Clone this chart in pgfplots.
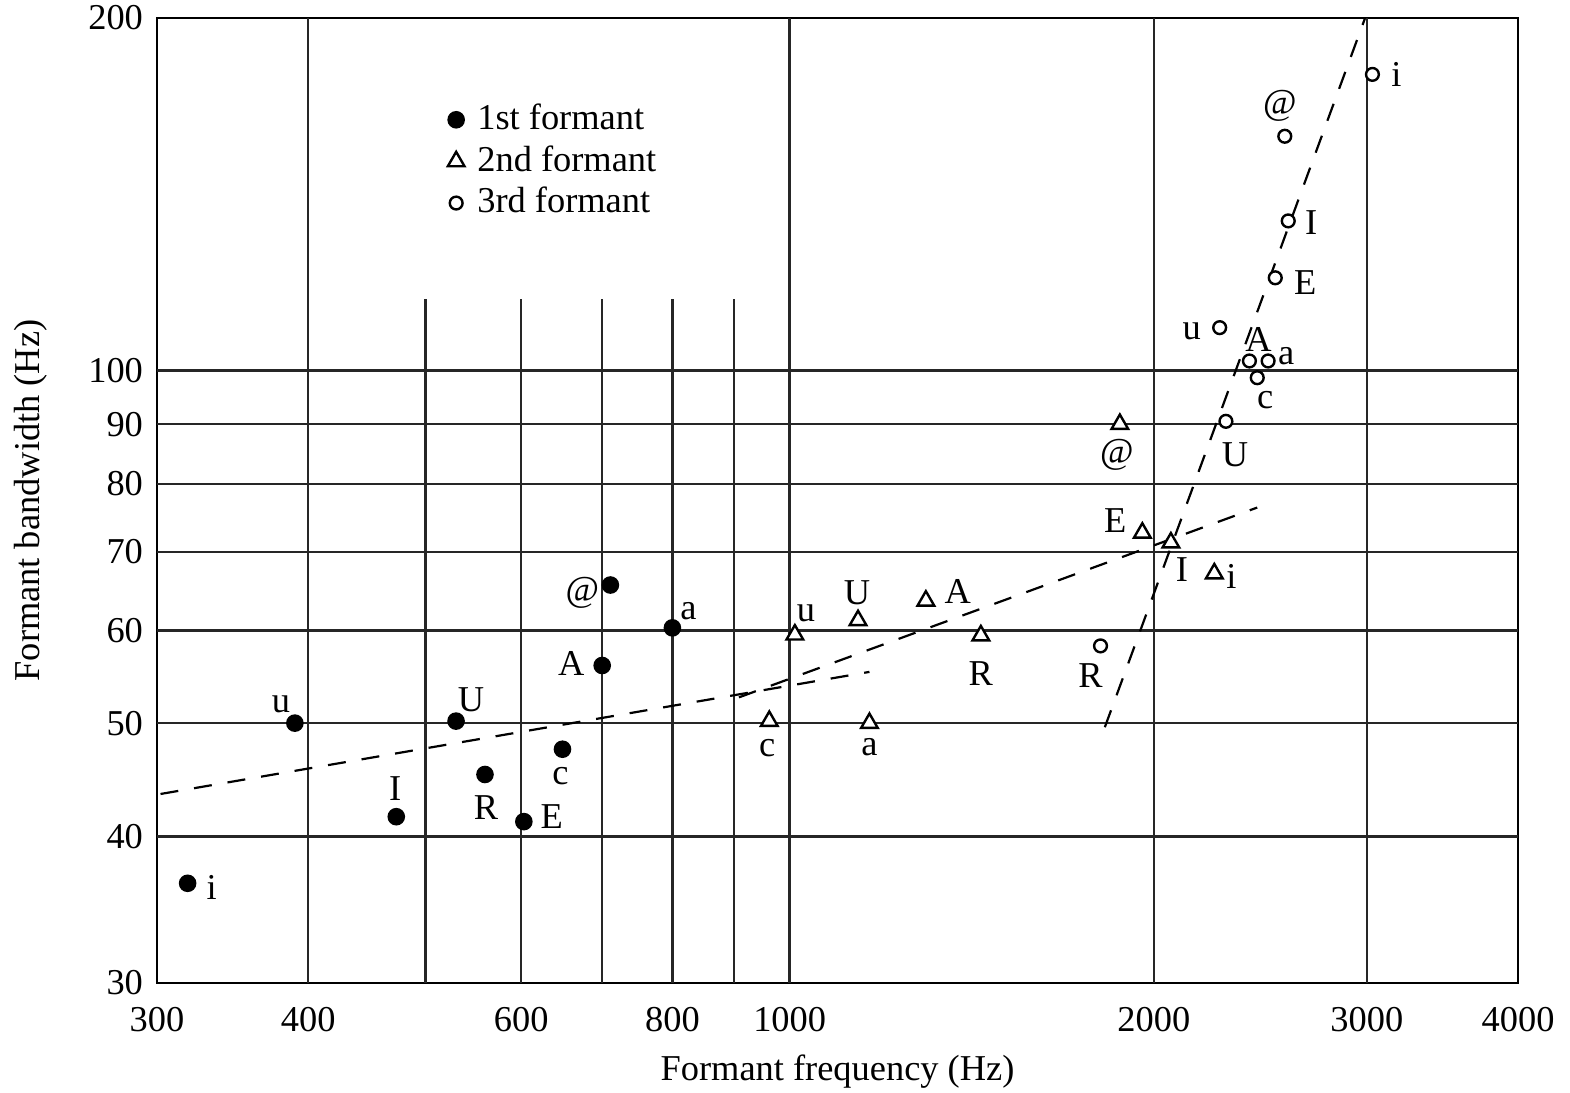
\documentclass[border=0pt]{standalone}
\usepackage{fontspec}
\setmainfont{Liberation Serif}
\usepackage{pgfplots}
\pgfplotsset{compat=1.18}

\newcommand{\fs}{\fontsize{9.1}{11}\selectfont}
% label: x, y (data), xshift, yshift (pt), text
\newcommand{\lab}[5]{\node[font=\fs,inner sep=0pt,xshift=#3pt,yshift=#4pt] at (axis cs:#1,#2) {#5};}

\begin{document}
\begin{tikzpicture}
\begin{axis}[
  xmode=log, ymode=log,
  scale only axis, width=340.25pt, height=241.25pt,
  xmin=300, xmax=4000, ymin=30, ymax=200,
  xtick={300,400,600,800,1000,2000,3000,4000},
  xticklabels={300,400,600,800,1000,2000,3000,4000},
  ytick={30,40,50,60,70,80,90,100,200},
  yticklabels={30,40,50,60,70,80,90,100,200},
  xminorticks=false, yminorticks=false,
  major tick length=0pt,
  tick label style={font=\fs},
  xticklabel style={yshift=-2.5pt},
  xlabel={Formant frequency (Hz)}, ylabel={Formant bandwidth (Hz)},
  label style={font=\fs},
  xlabel style={at={(axis description cs:0.5,-0.092)},anchor=center},
  ylabel style={at={(axis description cs:-0.093,0.5)},anchor=center},
  axis line style={line width=0.7pt},
  clip=false,
  legend cell align=left,
  legend style={at={(0.2095,0.92)}, anchor=north west, draw=none, fill=none,
    font=\fs, row sep=-1.5pt, inner sep=0pt},
  legend image code/.code={
    \draw[mark repeat=2,mark phase=2,#1] plot coordinates {(0cm,0cm) (0.1cm,0cm) (0.2cm,0cm)};
    \path[draw=none,fill=none] (0.1cm,0cm) ++(-3.3pt,0pt) rectangle ++(6.6pt,0.1pt);},
]
% grid lines
\pgfplotsinvokeforeach{400,1000,2000,3000}{\draw[black!85,line width=0.6pt] (axis cs:#1,30) -- (axis cs:#1,200);}
\pgfplotsinvokeforeach{500,600,700,800,900}{\draw[black!85,line width=0.6pt] (axis cs:#1,30) -- (axis cs:#1,115);}
\pgfplotsinvokeforeach{40,50,60,70,80,90,100}{\draw[black!85,line width=0.6pt] (axis cs:300,#1) -- (axis cs:4000,#1);}

% dashed trend lines
\addplot[black, line width=0.55pt, dash pattern=on 4.5pt off 4pt, forget plot]
  coordinates {(302,43.5) (1164,55.3)};
\addplot[black, line width=0.55pt, dash pattern=on 4.5pt off 4pt, forget plot]
  coordinates {(908,52.6) (2435,76.4)};
\addplot[black, line width=0.55pt, dash pattern=on 4.5pt off 4pt, forget plot]
  coordinates {(1822,49.6) (2990,200)};

% 1st formant
\addplot[only marks, mark=*, mark size=2pt, black] coordinates {
  (318,36.5) (390,50) (473,41.6) (530,50.2) (560,45.2) (603,41.2)
  (649,47.5) (700,56) (711,65.6) (800,60.3)};
\addlegendentry{1st formant}
% 2nd formant
\addplot[only marks, mark=triangle*, mark size=2.4pt, mark options={draw=black,fill=white,line width=0.6pt}] coordinates {
  (1875,90) (1957,72.7) (2066,71.3) (2244,67.1) (1010,59.5) (1139,61.2)
  (1296,63.6) (1439,59.4) (962,50.2) (1164,50)};
\addlegendentry{2nd formant}
% 3rd formant
\addplot[only marks, mark=*, mark size=1.6pt, mark options={draw=black,fill=white,line width=0.6pt}] coordinates {
  (3032,179) (2566,158.5) (2583,134.2) (2520,120) (2267,108.8) (2399,101.9)
  (2486,101.9) (2435,98.6) (2294,90.5) (1807,58.2)};
\addlegendentry{3rd formant}

% labels, 1st formant
\lab{318}{36.5}{6}{-1}{i}
\lab{390}{50}{-3.5}{4.75}{u}
\lab{473}{41.6}{-0.25}{7}{I}
\lab{530}{50.2}{3.75}{5.25}{U}
\lab{560}{45.2}{0.25}{-8.25}{R}
\lab{603}{41.2}{7}{1.25}{E}
\lab{649}{47.5}{-0.5}{-6.75}{c}
\lab{700}{56}{-7.75}{0.5}{A}
\lab{711}{65.6}{-7}{-2}{@}
\lab{800}{60.3}{4}{4.25}{a}
% labels, 2nd formant
\lab{1875}{90}{-0.75}{-7.75}{@}
\lab{1957}{72.7}{-6.75}{3}{E}
\lab{2066}{71.3}{2.75}{-6.75}{I}
\lab{2244}{67.1}{4.25}{-0.75}{i}
\lab{1010}{59.5}{2.75}{5.25}{u}
\lab{1139}{61.2}{-0.25}{7}{U}
\lab{1296}{63.6}{8}{2.25}{A}
\lab{1439}{59.4}{0}{-9.5}{R}
\lab{962}{50.2}{-0.5}{-6.75}{c}
\lab{1164}{50}{0}{-6}{a}
% labels, 3rd formant
\lab{3032}{179}{6}{0}{i}
\lab{2566}{158.5}{-1.25}{7.5}{@}
\lab{2583}{134.2}{5.75}{-0.5}{I}
\lab{2520}{120}{7.5}{-1.25}{E}
\lab{2267}{108.8}{-7}{-1}{u}
\lab{2399}{101.9}{2.25}{5.25}{A}
\lab{2486}{101.9}{4.5}{1.25}{a}
\lab{2435}{98.6}{2}{-5.5}{c}
\lab{2294}{90.5}{2.25}{-8.25}{U}
\lab{1807}{58.2}{-2.5}{-7.5}{R}
\end{axis}
\pgfresetboundingbox
\path (current axis.south west) ++(-39.25pt,-27.25pt) rectangle ++(392.5pt,273pt);
\end{tikzpicture}
\end{document}
